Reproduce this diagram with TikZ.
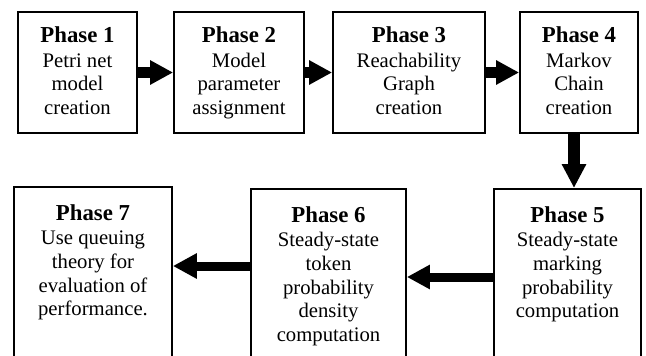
\documentclass[tikz,border=0pt]{standalone}
\usepackage{fontspec}
\setmainfont{Liberation Serif}
\usetikzlibrary{arrows.meta,calc}
\tikzset{
  box/.style={draw, line width=1.8pt, rectangle, inner sep=0pt},
  txt/.style={align=center, inner sep=0pt, anchor=north, font=\fontsize{20.7}{23.8}\selectfont},
  bigarrow/.style={line width=10.5pt, -{Triangle[length=23pt,width=23pt]}},
}
\newcommand\phtitle[1]{{\fontsize{22.8}{24.3}\selectfont\bfseries #1}}
\begin{document}
\begin{tikzpicture}[x=1pt,y=-1pt]
\useasboundingbox (0,0) rectangle (646,356);
\clip (0,0) rectangle (646,356);
% top row
\node[box, minimum width=119pt, minimum height=121pt] (p1) at (77.5,72.5) {};
\node[box, minimum width=130pt, minimum height=121pt] (p2) at (239,72.5) {};
\node[box, minimum width=152pt, minimum height=121pt] (p3) at (409,72.5) {};
\node[box, minimum width=118pt, minimum height=121pt] (p4) at (579,72.5) {};
% bottom row
\node[box, minimum width=147pt, minimum height=212pt, anchor=north] (p5) at (567.5,188) {};
\node[box, minimum width=155pt, minimum height=212pt, anchor=north] (p6) at (328.5,188) {};
\node[box, minimum width=158pt, minimum height=212pt, anchor=north] (p7) at (93,186) {};
% texts
\node[txt] (t1) at ($(p1.north)+(0,15.5)$) {\phtitle{Phase 1}\\[0.6pt]Petri net\\model\\creation};
\node[txt] (t2) at ($(p2.north)+(0,15.5)$) {\phtitle{Phase 2}\\[0.6pt]Model\\parameter\\assignment};
\node[txt] (t3) at ($(p3.north)+(0,15.5)$) {\phtitle{Phase 3}\\[0.6pt]Reachability\\Graph\\creation};
\node[txt] (t4) at ($(p4.north)+(0,15.5)$) {\phtitle{Phase 4}\\[0.6pt]Markov\\Chain\\creation};
\node[txt] (t5) at ($(p5.north)+(0,18)$) {\phtitle{Phase 5}\\[0.6pt]Steady-state\\marking\\probability\\computation};
\node[txt] (t6) at ($(p6.north)+(0,18)$) {\phtitle{Phase 6}\\[0.6pt]Steady-state\\token\\probability\\density\\computation};
\node[txt] (t7) at ($(p7.north)+(0,18)$) {\phtitle{Phase 7}\\[0.6pt]Use queuing\\theory for\\evaluation of\\performance.};
% arrows
\draw[bigarrow] (p1) -- (p2);
\draw[bigarrow] (p2) -- (p3);
\draw[bigarrow] (p3) -- (p4);
\coordinate (d1) at ($(p4.south)+(-5,0)$);
\draw[bigarrow, line width=12pt, -{Triangle[length=24pt,width=23pt]}] (d1) -- (d1 |- p5.north);
\coordinate (a5) at ($(p5.north west)+(0,89)$);
\draw[bigarrow, line width=9pt] (a5) -- (a5 -| p6.east);
\coordinate (a6) at ($(p6.north west)+(0,78)$);
\draw[bigarrow, line width=9pt, -{Triangle[length=24pt,width=24pt]}] (a6) -- (a6 -| p7.east);
\end{tikzpicture}
\end{document}
